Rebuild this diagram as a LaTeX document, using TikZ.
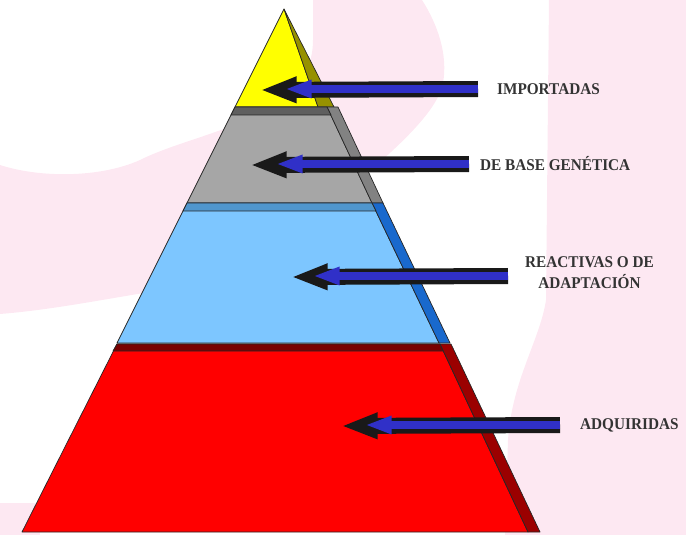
\documentclass[tikz,border=0pt]{standalone}
\usepackage{fontspec}
\setmainfont{Liberation Serif}
\usetikzlibrary{arrows.meta,positioning}

\definecolor{bgpink}{RGB}{253,232,242}
\definecolor{capayellow}{RGB}{255,255,0}
\definecolor{ladoyellow}{RGB}{150,145,0}
\definecolor{capagray}{RGB}{166,166,166}
\definecolor{ladogray}{RGB}{130,130,130}
\definecolor{topegray}{RGB}{95,95,95}
\definecolor{capablue}{RGB}{125,198,255}
\definecolor{ladoblue}{RGB}{25,105,205}
\definecolor{topeblue}{RGB}{80,150,205}
\definecolor{capared}{RGB}{255,0,0}
\definecolor{ladored}{RGB}{155,0,0}
\definecolor{topered}{RGB}{120,0,0}
\definecolor{flecha}{RGB}{48,48,200}

\tikzset{
  cara/.style={draw=black!85, line width=0.6pt, line join=round},
  lbl/.style={font=\fontsize{14}{18}\selectfont\bfseries, text=black!80, inner sep=0pt, xscale=0.93},
  sombra/.style={line width=0.48cm, black!90, -{Triangle[length=1.1cm, width=0.72cm]}},
  flechaazul/.style={line width=0.22cm, flecha, -{Triangle[length=0.8cm, width=0.5cm]}},
}

\begin{document}
\begin{tikzpicture}[x=0.03cm, y=-0.03cm]
    \useasboundingbox (0,0) rectangle (686,535);

    % Fondo rosa
    \fill[bgpink] (556,0) -- (686,0) -- (686,535) -- (505,535) -- (508,440)
        .. controls (512,380) and (540,340) .. (546,300) -- (549,0) -- cycle;
    \fill[bgpink] (313,0) -- (422,0) .. controls (438,25) and (448,55) .. (443,83)
        .. controls (438,110) and (400,145) .. (365,175) -- (150,292)
        .. controls (100,300) and (50,310) .. (0,314) -- (0,165)
        .. controls (40,178) and (100,178) .. (140,160)
        .. controls (200,130) and (313,120) .. (313,40) -- cycle;
    \fill[bgpink] (0,503) rectangle (40,535);

    % Capa 1: amarilla
    \filldraw[cara, fill=capayellow] (284,9) -- (235,107) -- (318,107) -- cycle;
    \filldraw[cara, fill=ladoyellow] (284,9) -- (318,107) -- (334,107) -- cycle;

    % Capa 2: gris
    \filldraw[cara, fill=capagray] (235,107) -- (187,203) -- (372,203) -- (327,107) -- cycle;
    \filldraw[cara, fill=ladogray] (327,107) -- (372,203) -- (383,203) -- (338,107) -- cycle;
    \filldraw[cara, fill=topegray] (235,107) -- (231,115) -- (331,115) -- (327,107) -- cycle;

    % Capa 3: azul
    \filldraw[cara, fill=capablue] (187,203) -- (117,343) -- (439,343) -- (372,203) -- cycle;
    \filldraw[cara, fill=ladoblue] (372,203) -- (439,343) -- (450,343) -- (383,203) -- cycle;
    \filldraw[cara, fill=topeblue] (187,203) -- (183,211) -- (376,211) -- (372,203) -- cycle;

    % Capa 4: roja
    \filldraw[cara, fill=capared] (117,344) -- (22,532) -- (528,532) -- (440,344) -- cycle;
    \filldraw[cara, fill=ladored] (440,344) -- (528,532) -- (540,532) -- (451,344) -- cycle;
    \filldraw[cara, fill=topered] (117,344) -- (113,351) -- (443,351) -- (440,344) -- cycle;

    % Flechas
    \coordinate (a1) at (478,89);  \coordinate (s1) at (260,90);  \coordinate (t1) at (285,89);
    \coordinate (a2) at (469,164); \coordinate (s2) at (250,165); \coordinate (t2) at (276,164);
    \coordinate (a3) at (508,276); \coordinate (s3) at (291,277); \coordinate (t3) at (313,276);
    \coordinate (a4) at (560,425); \coordinate (s4) at (341,426); \coordinate (t4) at (365,425);

    \foreach \i in {1,2,3,4} {
        \draw[sombra] (a\i) -- (s\i);
        \draw[flechaazul] (a\i) -- (t\i);
    }

    % Etiquetas
    \node[lbl, right=0.57cm of a1] (imp) {IMPORTADAS};
    \node[lbl, right=0.33cm of a2] (gen) {DE BASE GENÉTICA};
    \node[lbl, align=center, right=0.51cm of a3, yshift=0.1cm] (rea) {REACTIVAS O DE\\ADAPTACIÓN};
    \node[lbl, right=0.6cm of a4] (adq) {ADQUIRIDAS};
\end{tikzpicture}
\end{document}
